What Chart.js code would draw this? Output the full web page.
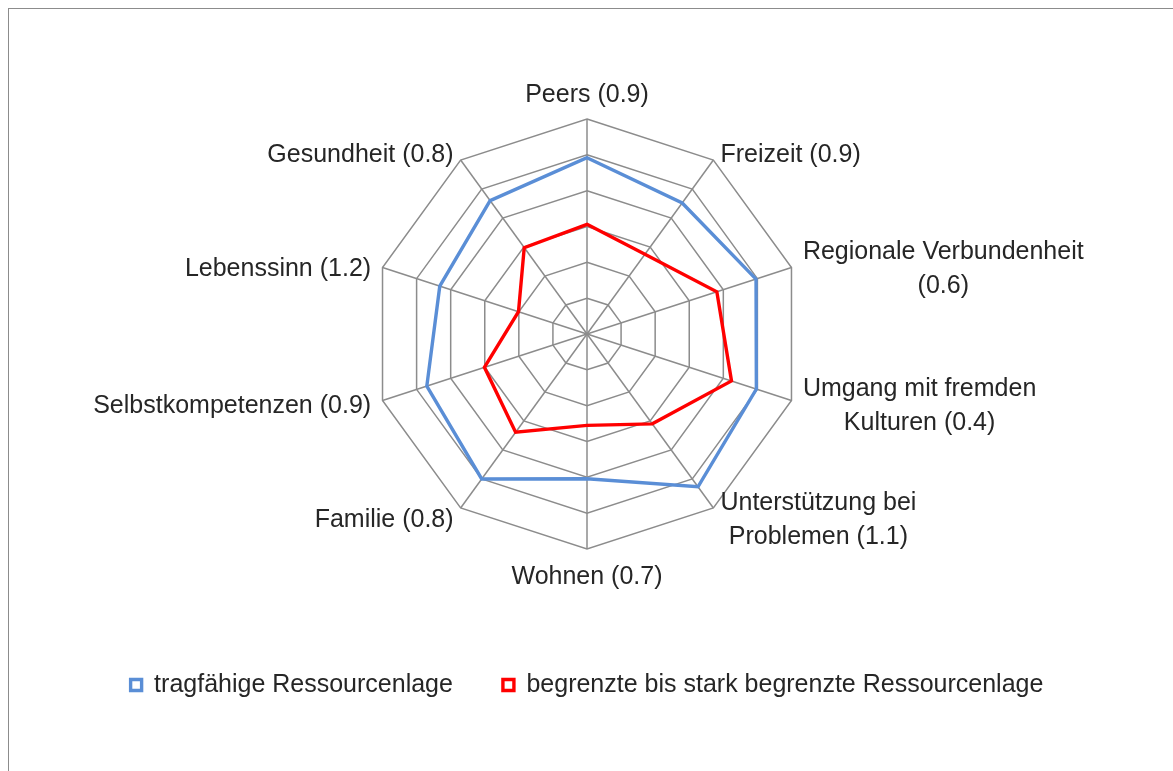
<!DOCTYPE html>
<html lang="de">
<head>
<meta charset="UTF-8" />
<title>Ressourcenlage</title>
<script src="https://cdn.jsdelivr.net/npm/chart.js"></script>
<style>
  html, body { margin: 0; padding: 0; background: #fff; overflow: hidden; }
  #frame {
    position: absolute; left: 8px; top: 8px; width: 1300px; height: 900px;
    border-left: 1.5px solid #8c8c8c; border-top: 1.5px solid #8c8c8c;
  }
  #wrap { position: absolute; left: 0; top: 0; width: 1173px; height: 771px; }
</style>
</head>
<body>
<div id="frame"></div>
<div id="wrap"><canvas id="radar"></canvas></div>

<script>
  // axis labels, one array of lines per spoke (clockwise from top)
  const categories = [
    ["Peers (0.9)"],
    ["Freizeit (0.9)"],
    ["Regionale Verbundenheit", "(0.6)"],
    ["Umgang mit fremden", "Kulturen (0.4)"],
    ["Unterstützung bei", "Problemen (1.1)"],
    ["Wohnen (0.7)"],
    ["Familie (0.8)"],
    ["Selbstkompetenzen (0.9)"],
    ["Lebenssinn (1.2)"],
    ["Gesundheit (0.8)"],
  ];

  const seriesNames = [
    "tragfähige Ressourcenlage",
    "begrenzte bis stark begrenzte Ressourcenlage",
  ];

  const tragfaehig = [4.92, 4.52, 4.96, 4.97, 5.27, 4.04, 5.0, 4.7, 4.32, 4.6];
  const begrenzt = [3.06, 2.75, 3.81, 4.24, 3.1, 2.55, 3.39, 3.01, 2.01, 2.98];

  const scaleMin = 0;
  const scaleMax = 6;
  const scaleStep = 1;

  const FONT = '"Liberation Sans", Arial, sans-serif';

  // Excel-like spoke labels: side labels centred on the spoke end, lines centred
  const spokeLabels = {
    id: "spokeLabels",
    afterDraw(chart) {
      const scale = chart.scales.r;
      const ctx = chart.ctx;
      const n = chart.data.labels.length;
      const lineH = 34;
      ctx.save();
      ctx.font = "25px " + FONT;
      ctx.fillStyle = "#262626";
      ctx.textBaseline = "middle";
      ctx.textAlign = "left";
      chart.data.labels.forEach((lines, i) => {
        const p = scale.getPointPosition(i, scale.drawingArea + 12);
        const angle = (i * 360) / n;
        const widths = lines.map((t) => ctx.measureText(t).width);
        const blockW = Math.max(...widths);
        let top = p.y - (lines.length * lineH) / 2;
        let left;
        if (angle === 0) {
          left = p.x - blockW / 2;
          top -= 12;
        } else if (angle === 180) {
          left = p.x - blockW / 2;
          top += 16;
        } else {
          left = angle < 180 ? p.x : p.x - blockW;
          top += p.y < scale.yCenter ? 5 : 2;
        }
        lines.forEach((t, k) => {
          ctx.fillText(t, left + (blockW - widths[k]) / 2, top + lineH * (k + 0.5));
        });
      });
      ctx.restore();
    },
  };

  new Chart(document.getElementById("radar"), {
    type: "radar",
    data: {
      labels: categories,
      datasets: [
        {
          label: seriesNames[0],
          data: tragfaehig,
          borderColor: "#5a8ed6",
          backgroundColor: "#ffffff",
          borderWidth: 3.4,
          pointRadius: 0,
          fill: false,
        },
        {
          label: seriesNames[1],
          data: begrenzt,
          borderColor: "#ff0000",
          backgroundColor: "#ffffff",
          borderWidth: 3.4,
          pointRadius: 0,
          fill: false,
        },
      ],
    },
    options: {
      responsive: true,
      maintainAspectRatio: false,
      animation: false,
      layout: { padding: { top: 119, bottom: 63.5, left: 1, right: 0 } },
      elements: { line: { tension: 0 } },
      plugins: {
        tooltip: { enabled: false },
        legend: {
          position: "bottom",
          title: {
            display: true,
            text: "",
            font: { size: 10, lineHeight: 1 },
            padding: { top: 0, bottom: 62.75 },
          },
          labels: {
            boxWidth: 11,
            boxHeight: 11,
            padding: 50,
            color: "#262626",
            font: { size: 25, family: FONT },
          },
        },
      },
      scales: {
        r: {
          min: scaleMin,
          max: scaleMax,
          ticks: { display: false, stepSize: scaleStep },
          grid: { color: "#8c8c8c", lineWidth: 1.5 },
          angleLines: { color: "#8c8c8c", lineWidth: 1.5 },
          pointLabels: { display: false },
        },
      },
    },
    plugins: [spokeLabels],
  });
</script>
</body>
</html>
